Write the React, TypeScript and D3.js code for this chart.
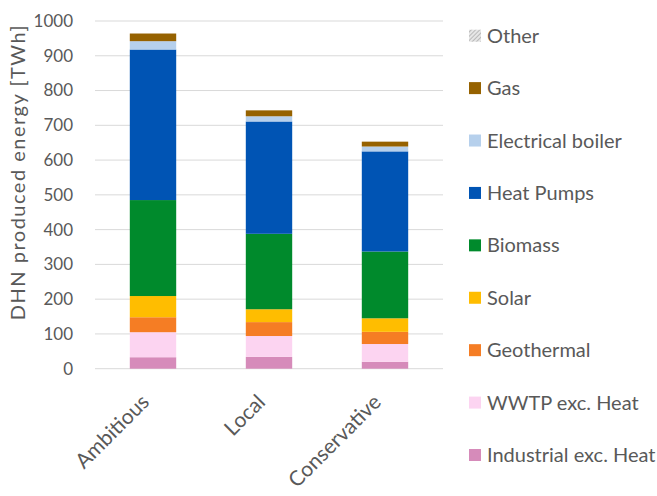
import React from 'react';
import * as d3 from 'd3';

// scenarios along the x axis
const scenarios = ['Ambitious', 'Local', 'Conservative'];

// sources, bottom of the stack first
const sources = [
  'Industrial exc. Heat',
  'WWTP exc. Heat',
  'Geothermal',
  'Solar',
  'Biomass',
  'Heat Pumps',
  'Electrical boiler',
  'Gas',
  'Other',
];

// TWh per source, one array per scenario (same order as sources)
const ambitious = [33, 72, 43, 61, 276, 433, 24, 22, 0];
const local = [34, 60, 40, 37, 217, 323, 15, 17, 0];
const conservative = [20, 51, 35, 39, 192, 288, 14, 14, 0];

const yTicks = [0, 100, 200, 300, 400, 500, 600, 700, 800, 900, 1000];

const colors: Record<string, string> = {
  'Industrial exc. Heat': '#D68BBA',
  'WWTP exc. Heat': '#FCD4F1',
  'Geothermal': '#F57D24',
  'Solar': '#FFBD00',
  'Biomass': '#008A2C',
  'Heat Pumps': '#0054B4',
  'Electrical boiler': '#B6D0EC',
  'Gas': '#966200',
  'Other': 'url(#hatch)',
};

const W = 657, H = 496;
const font = 'Lato, "Open Sans", sans-serif';
const textColor = '#595959';

export default function App() {
  const rows = scenarios.map((s, i) => {
    const vals = [ambitious, local, conservative][i];
    const r: any = { scenario: s };
    sources.forEach((k, j) => (r[k] = vals[j]));
    return r;
  });

  const stack = d3.stack<any>().keys(sources)(rows);

  const x = d3.scaleBand().domain(scenarios).range([95, 443]).paddingInner(0.6).paddingOuter(0.3);
  const y = d3.scaleLinear().domain([0, 1000]).range([368.7, 21]);

  // legend is listed top-down in reverse stack order
  const legendItems = [...sources].reverse();
  const legend = d3.scalePoint().domain(legendItems).range([35.7, 455]);

  return (
    <svg width={W} height={H} style={{ position: 'absolute', left: 0, top: 0, background: '#fff' }}
      fontFamily={font}>
      <defs>
        <pattern id="hatch" width="3" height="3" patternUnits="userSpaceOnUse" patternTransform="rotate(45)">
          <rect width="3" height="3" fill="#e6e6e6" />
          <line x1="0" y1="0" x2="0" y2="3" stroke="#a6a6a6" strokeWidth="1.4" />
        </pattern>
      </defs>

      {/* gridlines */}
      {yTicks.map(t => (
        <line key={t} x1={95} x2={443} y1={y(t)} y2={y(t)} stroke="#d9d9d9" strokeWidth={1} />
      ))}

      {/* tick labels */}
      {yTicks.map(t => (
        <text key={'l' + t} x={73} y={y(t)} dy="0.35em" textAnchor="end" fontSize={17} fill={textColor}>
          {t}
        </text>
      ))}

      {/* axis title */}
      <text transform="translate(25,172) rotate(-90)" textAnchor="middle" fontSize={20}
        letterSpacing={1.5} fill={textColor}>
        DHN produced energy [TWh]
      </text>

      {/* stacked bars */}
      {stack.map(layer => (
        <g key={layer.key} fill={colors[layer.key]}>
          {layer.map((d, i) => (
            <rect key={i} x={x(scenarios[i])} width={x.bandwidth()}
              y={y(d[1])} height={Math.max(0, y(d[0]) - y(d[1]))} />
          ))}
        </g>
      ))}

      {/* category labels */}
      {scenarios.map(s => (
        <text key={s}
          transform={`translate(${(x(s) as number) + x.bandwidth() / 2 - 13},${393}) rotate(-45)`}
          textAnchor="end" dy="0.7em" fontSize={21} fill={textColor}>
          {s}
        </text>
      ))}

      {/* legend */}
      {legendItems.map(k => (
        <g key={k} transform={`translate(469,${legend(k)})`}>
          <rect x={0} y={-6} width={12} height={12} fill={colors[k]} />
          <text x={18} dy="0.35em" fontSize={20} fill={textColor}>{k}</text>
        </g>
      ))}
    </svg>
  );
}
